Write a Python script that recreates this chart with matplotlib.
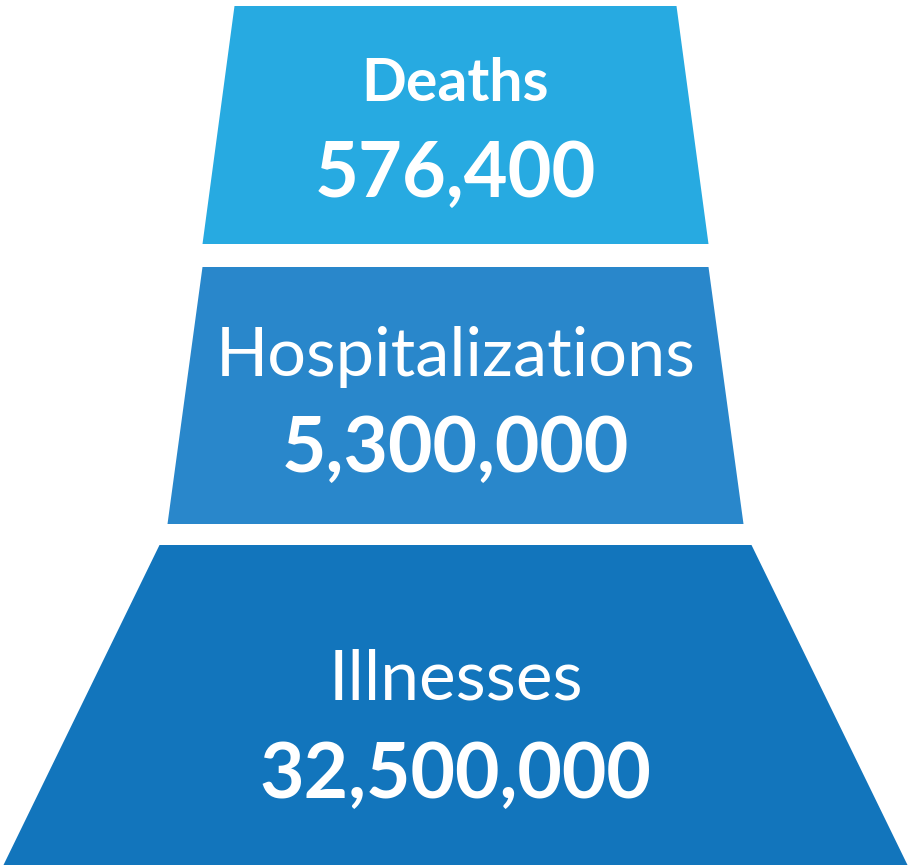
import matplotlib
matplotlib.use("Agg")
import matplotlib.pyplot as plt
from matplotlib.patches import Polygon

categories = ["Deaths", "Hospitalizations", "Illnesses"]
values = [576400, 5300000, 32500000]
colors = ["#27AAE1", "#2987CB", "#1275BC"]

W, H = 909, 865
fig = plt.figure(figsize=(W / 100, H / 100), dpi=100)
ax = fig.add_axes([0, 0, 1, 1])
ax.set_xlim(0, W)
ax.set_ylim(H, 0)
ax.axis("off")

cx = 455.5
# (top_y, bottom_y, top_halfwidth, bottom_halfwidth)
shapes = [(6, 244, 221, 253), (267, 524, 253, 288), (545, 865, 296, 452)]
label_base = [101, 376, 699]
value_base = [197, 472, 798]
label_weight = ["bold", "normal", "normal"]
label_size = [42.5, 49.3, 50]
value_size = [54.5, 55.4, 55.4]

for i, (cat, val) in enumerate(zip(categories, values)):
    ty, by, tw, bw = shapes[i]
    poly = Polygon([(cx - tw, ty), (cx + tw, ty), (cx + bw, by), (cx - bw, by)],
                   closed=True, facecolor=colors[i], edgecolor="none")
    ax.add_patch(poly)
    ax.text(cx, label_base[i], cat, ha="center", va="baseline", color="white",
            fontsize=label_size[i], fontweight=label_weight[i], family="Lato")
    ax.text(cx, value_base[i], f"{val:,}", ha="center", va="baseline", color="white",
            fontsize=value_size[i], fontweight="bold", family="Lato")

fig.savefig("out.png", dpi=100)
